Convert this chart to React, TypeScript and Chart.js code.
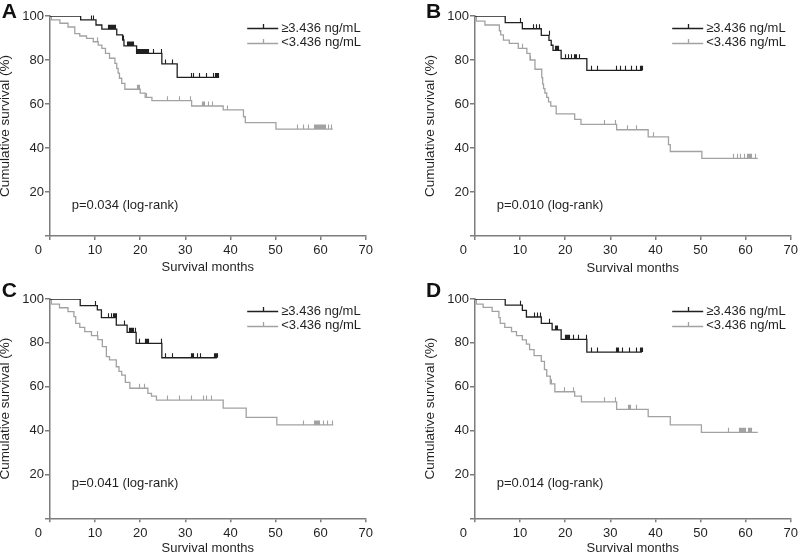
import React, { useEffect, useRef } from "react";
import { Chart, registerables } from "chart.js";
Chart.register(...registerables);

// ---------- Data (Kaplan-Meier steps: event times / survival %, censor times) ----------
const A_HI_T = [0, 6.8, 10.2, 11.5, 14.8, 16.1, 16.4, 19.2, 24.8, 28.2, 37.5];
const A_HI_S = [100, 98.2, 95.9, 94.0, 91.4, 89.1, 86.4, 83.0, 78.2, 72.1, 72.1];
const A_HI_C = [9.2, 9.6, 12.9, 13.1, 13.3, 13.5, 13.7, 13.9, 14.1, 14.3, 14.5, 16.2, 17.1, 17.3, 17.5, 17.7, 17.9, 18.1, 18.3, 18.5, 19.4, 19.6, 19.8, 20.0, 20.2, 20.4, 20.6, 20.8, 21.0, 21.2, 21.4, 21.6, 21.8, 22.8, 24.6, 25.5, 27.0, 31.2, 31.8, 33.1, 34.7, 36.2, 36.5, 36.7, 36.9, 37.1, 37.3];
const A_LO_T = [0, 0.3, 2.2, 4.0, 5.5, 6.6, 8.1, 9.6, 10.7, 11.5, 12.3, 13.2, 14.4, 14.8, 15.1, 15.4, 15.9, 16.6, 20.0, 21.1, 22.6, 31.4, 38.4, 42.9, 43.3, 50.1, 62.7];
const A_LO_S = [100, 98.2, 96.7, 95.0, 92.0, 90.9, 89.8, 88.3, 86.8, 85.3, 83.0, 80.8, 78.5, 76.2, 74.0, 71.7, 69.4, 66.7, 64.9, 63.0, 61.5, 59.1, 57.3, 54.2, 51.5, 48.6, 48.6];
const A_LO_C = [10.4, 19.3, 19.5, 19.7, 21.2, 25.9, 28.6, 31.0, 33.6, 33.8, 34.0, 34.2, 35.1, 35.9, 39.2, 54.7, 56.2, 57.3, 58.6, 58.8, 59.0, 59.2, 59.4, 59.6, 59.8, 60.0, 60.2, 60.4, 60.6, 60.8, 61.0, 61.7, 62.2];

const B_HI_T = [0, 6.7, 10.5, 14.7, 16.4, 16.9, 17.3, 19.1, 24.8, 37.1];
const B_HI_S = [100, 97.0, 94.2, 91.2, 88.9, 86.7, 84.4, 80.6, 75.3, 75.3];
const B_HI_C = [9.9, 12.9, 13.5, 14.3, 16.3, 17.7, 17.9, 18.1, 18.3, 18.5, 19.9, 20.6, 21.2, 22.0, 22.2, 22.4, 23.0, 25.8, 27.0, 31.3, 32.1, 33.2, 34.7, 35.8, 36.5, 36.7, 36.9, 37.1];
const B_LO_T = [0, 0.3, 2.2, 5.4, 5.7, 6.3, 7.6, 9.6, 11.5, 12.2, 13.3, 14.8, 15.0, 15.2, 15.5, 15.9, 16.3, 16.8, 18.0, 22.1, 23.5, 31.4, 38.4, 42.9, 43.3, 50.3, 62.7];
const B_LO_S = [100, 97.7, 95.9, 93.3, 91.4, 89.0, 87.6, 85.3, 83.0, 80.0, 75.8, 72.0, 69.0, 67.0, 65.0, 63.0, 61.0, 59.0, 55.5, 53.0, 50.7, 48.3, 45.1, 41.5, 38.4, 35.3, 35.3];
const B_LO_C = [10.4, 12.2, 28.6, 31.0, 33.8, 35.8, 39.5, 57.3, 58.0, 58.8, 59.6, 60.4, 60.6, 60.8, 61.0, 61.2, 62.1];

const C_HI_T = [0, 6.7, 10.5, 11.4, 14.7, 17.1, 19.1, 24.8, 37.0];
const C_HI_S = [100, 97.0, 95.0, 91.5, 88.1, 84.8, 79.8, 73.2, 73.2];
const C_HI_C = [9.9, 12.9, 13.6, 14.0, 14.2, 14.4, 14.6, 16.3, 17.6, 17.8, 18.0, 18.2, 18.4, 18.9, 19.7, 21.0, 21.2, 21.4, 21.6, 21.8, 24.7, 25.6, 27.1, 31.2, 31.4, 31.6, 31.8, 32.6, 33.2, 36.4, 36.6, 36.8, 37.0];
const C_LO_T = [0, 0.3, 2.1, 4.0, 5.3, 5.7, 6.6, 7.7, 9.2, 10.6, 11.6, 12.5, 13.2, 14.7, 15.3, 15.9, 16.7, 17.7, 21.7, 22.5, 23.6, 38.4, 43.5, 50.3, 62.8];
const C_LO_S = [100, 97.7, 96.0, 94.2, 92.0, 88.9, 87.1, 85.1, 83.3, 81.5, 78.3, 73.7, 72.2, 69.1, 67.0, 65.3, 62.0, 59.3, 57.0, 55.7, 53.9, 50.2, 46.0, 42.6, 42.6];
const C_LO_C = [10.5, 19.7, 20.8, 25.9, 28.5, 31.2, 33.9, 34.7, 35.6, 56.2, 58.5, 58.7, 58.9, 59.1, 59.3, 59.5, 59.7, 60.5, 61.5, 62.5];

const D_HI_T = [0, 6.7, 10.5, 11.4, 14.7, 17.1, 19.1, 24.8, 37.0];
const D_HI_S = [100, 97.2, 94.8, 91.8, 88.9, 85.9, 81.6, 75.8, 75.8];
const D_HI_C = [9.9, 13.1, 13.8, 14.5, 16.4, 17.7, 17.9, 18.1, 20.0, 20.2, 20.4, 20.6, 20.8, 21.7, 22.8, 24.6, 25.8, 27.1, 31.2, 31.4, 31.6, 32.7, 34.1, 35.6, 36.5, 36.7, 36.9, 37.0];
const D_LO_T = [0, 0.3, 1.8, 3.8, 5.3, 5.6, 6.6, 8.1, 9.2, 10.5, 11.4, 12.1, 13.1, 14.7, 15.4, 15.9, 16.7, 17.7, 22.1, 23.6, 31.4, 38.4, 43.3, 50.2, 62.7];
const D_LO_S = [100, 97.7, 96.2, 94.4, 91.5, 88.9, 87.1, 85.1, 83.3, 81.4, 79.4, 76.9, 74.2, 71.6, 67.8, 64.8, 61.3, 57.7, 55.7, 53.1, 49.7, 46.4, 42.6, 39.2, 39.2];
const D_LO_C = [10.5, 16.9, 19.7, 21.7, 28.6, 31.0, 34.0, 34.2, 34.4, 35.8, 56.2, 58.5, 58.7, 58.9, 59.1, 59.3, 59.5, 59.7, 59.9, 60.6, 60.8, 61.0, 61.2];

const PANEL_LETTERS = ["A", "B", "C", "D"];
const P_TEXTS = ["p=0.034 (log-rank)", "p=0.010 (log-rank)", "p=0.041 (log-rank)", "p=0.014 (log-rank)"];
const LEGEND_LABELS = ["\u22653.436 ng/mL", "<3.436 ng/mL"];
const X_TITLE = "Survival months";
const Y_TITLE = "Cumulative survival (%)";
const X_MIN = 0, X_MAX = 70, X_STEP = 10;
const Y_MIN = 0, Y_MAX = 100, Y_STEP = 20;

// ---------- Styles ----------
const FONT = "'Liberation Sans', Arial, Helvetica, sans-serif";
const TEXT = "#231f20";
const AXIS = "#7d7d7d";
const HI_COLOR = "#231f20";
const LO_COLOR = "#a2a2a2";

type Series = { t: number[]; s: number[]; c: number[] };
type Layout = {
  L: number; T: number; W: number; H: number;
  left: number; top: number; right: number; bottom: number;
  xTitleY: number; yTitleX: number; letterBase: number; pPct: number;
};

const PANELS: { hi: Series; lo: Series; layout: Layout }[] = [
  { hi: { t: A_HI_T, s: A_HI_S, c: A_HI_C }, lo: { t: A_LO_T, s: A_LO_S, c: A_LO_C },
    layout: { L: -2, T: 0, W: 382, H: 280, left: 50, top: 16, right: 365.7, bottom: 236, xTitleY: 267, yTitleX: 5, letterBase: 18, pPct: 14 } },
  { hi: { t: B_HI_T, s: B_HI_S, c: B_HI_C }, lo: { t: B_LO_T, s: B_LO_S, c: B_LO_C },
    layout: { L: 424, T: 0, W: 380, H: 280, left: 475, top: 16, right: 790.7, bottom: 236, xTitleY: 268, yTitleX: 430.5, letterBase: 18, pPct: 14 } },
  { hi: { t: C_HI_T, s: C_HI_S, c: C_HI_C }, lo: { t: C_LO_T, s: C_LO_S, c: C_LO_C },
    layout: { L: -2, T: 282, W: 382, H: 273, left: 50, top: 299, right: 365.7, bottom: 518.3, xTitleY: 548, yTitleX: 5, letterBase: 297, pPct: 16 } },
  { hi: { t: D_HI_T, s: D_HI_S, c: D_HI_C }, lo: { t: D_LO_T, s: D_LO_S, c: D_LO_C },
    layout: { L: 424, T: 282, W: 380, H: 273, left: 475, top: 299, right: 790.7, bottom: 518.3, xTitleY: 548, yTitleX: 430.5, letterBase: 297, pPct: 16 } },
];

function survAt(times: number[], surv: number[], t: number): number {
  let v = surv[0];
  for (let i = 0; i < times.length; i++) {
    if (times[i] <= t) v = surv[i];
    else break;
  }
  return v;
}

function Panel({ idx }: { idx: number }) {
  const ref = useRef<HTMLCanvasElement | null>(null);
  const { hi, lo, layout } = PANELS[idx];
  useEffect(() => {
    if (!ref.current) return;
    const lay = layout;
    const xTickLen = 4, xTickPad = 3, yTickLen = 5, yTickPad = 1;
    const titleLH = 13;

    const extras = {
      id: "kmExtras",
      afterDatasetsDraw(chart: any) {
        const ctx = chart.ctx;
        const xs = chart.scales.x, ys = chart.scales.y;
        const area = chart.chartArea;
        ctx.save();
        // censor ticks
        const drawCensors = (ser: Series, color: string) => {
          ctx.strokeStyle = color;
          ctx.lineWidth = 1.1;
          ctx.beginPath();
          for (const c of ser.c) {
            const px = Math.round(xs.getPixelForValue(c)) + 0.5;
            const py = ys.getPixelForValue(survAt(ser.t, ser.s, c));
            ctx.moveTo(px, py);
            ctx.lineTo(px, py - 4.5);
          }
          ctx.stroke();
        };
        drawCensors(lo, LO_COLOR);
        drawCensors(hi, HI_COLOR);

        // legend
        const rows = [
          { y: area.top + 12, color: HI_COLOR, label: LEGEND_LABELS[0] },
          { y: area.top + 26.5, color: LO_COLOR, label: LEGEND_LABELS[1] },
        ];
        ctx.font = `13px ${FONT}`;
        ctx.textBaseline = "middle";
        ctx.textAlign = "left";
        for (const r of rows) {
          const x0 = area.right - 118.5, x1 = area.right - 87.5;
          const ly = Math.round(r.y) + 0.5;
          ctx.strokeStyle = r.color;
          ctx.lineWidth = 1.3;
          ctx.beginPath();
          ctx.moveTo(x0, ly);
          ctx.lineTo(x1, ly);
          const cx = Math.round((x0 + x1) / 2) + 0.5;
          ctx.moveTo(cx, ly);
          ctx.lineTo(cx, ly - 4.5);
          ctx.stroke();
          ctx.fillStyle = TEXT;
          ctx.fillText(r.label, area.right - 84.5, r.y);
        }

        // p-value text
        ctx.fillStyle = TEXT;
        ctx.textBaseline = "middle";
        ctx.fillText(P_TEXTS[idx], xs.getPixelForValue(4.8), ys.getPixelForValue(lay.pPct));

        // origin "0" label on x axis
        ctx.textAlign = "center";
        ctx.fillText(String(X_MIN), xs.getPixelForValue(X_MIN) - 11.7, xs.top + xTickLen + xTickPad + 7.8);

        // panel letter
        ctx.font = `bold 21px ${FONT}`;
        ctx.textAlign = "left";
        ctx.textBaseline = "alphabetic";
        ctx.fillStyle = "#111";
        ctx.fillText(PANEL_LETTERS[idx], (idx % 2 === 0 ? 1.7 : 426) - lay.L, lay.letterBase - lay.T);
        ctx.restore();
      },
    };

    const toPts = (ser: Series) => ser.t.map((t, i) => ({ x: t, y: ser.s[i] }));

    const chart = new Chart(ref.current, {
      type: "line",
      data: {
        datasets: [
          { label: LEGEND_LABELS[0], data: toPts(hi), borderColor: HI_COLOR, borderWidth: 1.3, pointRadius: 0, stepped: "before", fill: false },
          { label: LEGEND_LABELS[1], data: toPts(lo), borderColor: LO_COLOR, borderWidth: 1.3, pointRadius: 0, stepped: "before", fill: false },
        ],
      },
      options: {
        animation: false,
        responsive: false,
        devicePixelRatio: 1,
        layout: {
          padding: { left: 0, top: lay.top - lay.T, right: lay.L + lay.W - lay.right, bottom: 0 },
        },
        plugins: { legend: { display: false }, tooltip: { enabled: false } },
        scales: {
          x: {
            type: "linear",
            min: X_MIN, max: X_MAX,
            ticks: {
              stepSize: X_STEP, autoSkip: false, maxRotation: 0, padding: xTickPad,
              color: TEXT, font: { family: FONT, size: 13 },
              callback: (v: any) => (v === X_MIN ? "" : String(v)),
            },
            grid: { display: true, drawOnChartArea: false, drawTicks: true, tickLength: xTickLen, color: AXIS, lineWidth: 1.5 },
            border: { display: true, color: AXIS, width: 1.5 },
            title: {
              display: true, text: X_TITLE, color: TEXT,
              font: { family: FONT, size: 13, lineHeight: 1 },
              padding: { top: 0, bottom: lay.T + lay.H - lay.xTitleY - titleLH / 2 },
            },
            afterFit: (s: any) => { s.height = lay.T + lay.H - lay.bottom; },
          },
          y: {
            type: "linear",
            min: Y_MIN, max: Y_MAX,
            ticks: {
              stepSize: Y_STEP, padding: yTickPad, color: TEXT, font: { family: FONT, size: 13 },
              callback: (v: any) => (v === Y_MIN ? "" : String(v)),
            },
            grid: { display: true, drawOnChartArea: false, drawTicks: true, tickLength: yTickLen, color: AXIS, lineWidth: 1.5 },
            border: { display: true, color: AXIS, width: 1.5 },
            title: {
              display: true, text: Y_TITLE, color: TEXT,
              font: { family: FONT, size: 13.5, lineHeight: 1 },
              padding: { top: lay.yTitleX - lay.L - titleLH / 2, bottom: 0 },
            },
            afterFit: (s: any) => { s.width = lay.left - lay.L; },
          },
        },
      },
      plugins: [extras],
    } as any);
    return () => chart.destroy();
  }, [idx]);

  return (
    <canvas
      ref={ref}
      width={layout.W}
      height={layout.H}
      style={{ position: "absolute", left: layout.L, top: layout.T, width: layout.W, height: layout.H }}
    />
  );
}

export default function App() {
  return (
    <div style={{ position: "absolute", left: 0, top: 0, width: 798, height: 555, overflow: "hidden", background: "#fff" }}>
      {PANELS.map((_, i) => (
        <Panel key={i} idx={i} />
      ))}
    </div>
  );
}
